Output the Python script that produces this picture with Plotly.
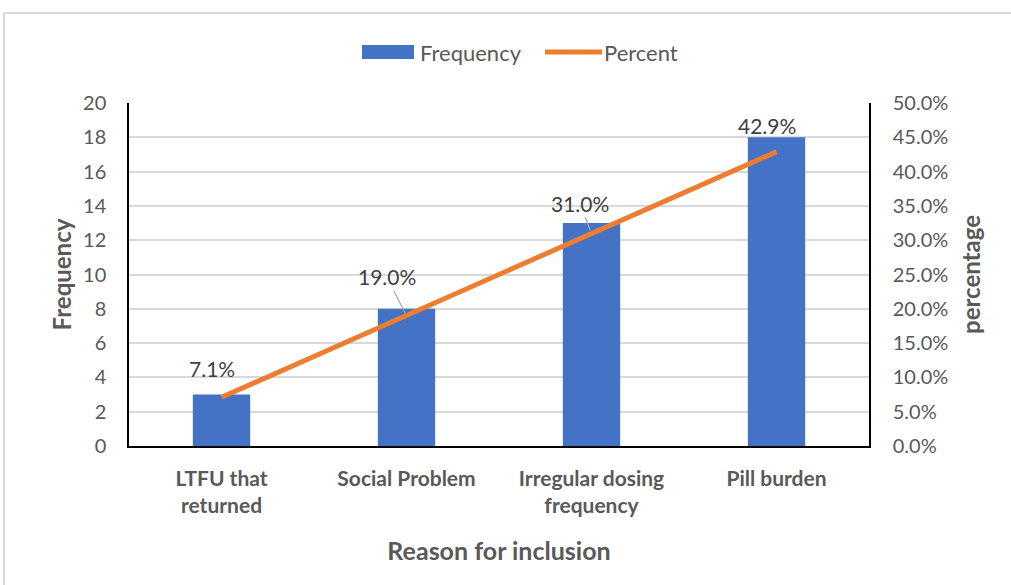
import plotly.graph_objects as go

# Reasons for inclusion, counts and share of total
categories = ["LTFU that<br>returned", "Social Problem", "Irregular dosing<br>frequency", "Pill burden"]
frequency = [3, 8, 13, 18]
percent = [0.071, 0.190, 0.310, 0.429]
percent_labels = ["7.1%", "19.0%", "31.0%", "42.9%"]

BLUE = "#4472C4"
ORANGE = "#ED7D31"
TEXT = "#595959"
LABEL = "#404040"
GRID = "#D9D9D9"
FONT = "Lato"

fig = go.Figure()
fig.add_trace(go.Bar(x=categories, y=frequency, name="Frequency",
                     marker=dict(color=BLUE, line=dict(width=0)), width=0.31))
fig.add_trace(go.Scatter(x=categories, y=percent, name="Percent", yaxis="y2",
                         mode="lines", line=dict(color=ORANGE, width=5)))

# Data labels on the percent line (leader lines for the middle two)
offsets = [(-10, -29, False), (-20, -39, True), (-12, -30, True), (-10, -26, False)]
for cat, val, txt, (ax, ay, lead) in zip(categories, percent, percent_labels, offsets):
    fig.add_annotation(x=cat, y=val, xref="x", yref="y2", text=txt,
                       showarrow=True, ax=ax, ay=ay, axref="pixel", ayref="pixel",
                       arrowhead=0, arrowwidth=1.2,
                       arrowcolor="#A6A6A6" if lead else "rgba(0,0,0,0)",
                       standoff=3, font=dict(family=FONT, size=21, color=LABEL))

# Legend drawn at the top centre
L, W, T, H = 129, 740, 103, 343
def px(x):
    return (x - L) / W
def py(y):
    return (T + H - y) / H

shapes = [
    dict(type="rect", xref="paper", yref="paper", x0=px(362), x1=px(414), y0=py(59), y1=py(45),
         fillcolor=BLUE, line=dict(width=0)),
    dict(type="line", xref="paper", yref="paper", x0=px(545), x1=px(602), y0=py(52), y1=py(52),
         line=dict(color=ORANGE, width=5)),
    # chart frame
    dict(type="line", xref="paper", yref="paper", x0=px(4), x1=px(1015), y0=py(13), y1=py(13),
         line=dict(color=GRID, width=2)),
    dict(type="line", xref="paper", yref="paper", x0=px(4), x1=px(4), y0=py(13), y1=py(600),
         line=dict(color=GRID, width=2)),
]
fig.add_annotation(xref="paper", yref="paper", x=px(418), y=py(52), text="Frequency",
                   showarrow=False, xanchor="left", yanchor="middle",
                   font=dict(family=FONT, size=22, color=TEXT))
fig.add_annotation(xref="paper", yref="paper", x=px(602), y=py(52), text="Percent",
                   showarrow=False, xanchor="left", yanchor="middle",
                   font=dict(family=FONT, size=22, color=TEXT))

fig.update_layout(
    width=1011, height=585,
    margin=dict(l=L, r=1011 - L - W, t=T, b=585 - T - H),
    paper_bgcolor="white", plot_bgcolor="white",
    showlegend=False, shapes=shapes,
    font=dict(family=FONT, color=TEXT),
    xaxis=dict(showline=True, linecolor="black", linewidth=1.5, showgrid=False,
               ticks="", ticklabelstandoff=13,
               tickfont=dict(family=FONT, size=21, color=TEXT, weight="bold"),
               title=dict(text="<b>Reason for inclusion</b>", standoff=26,
                          font=dict(family=FONT, size=25, color=TEXT))),
    yaxis=dict(range=[0, 20], dtick=2, showline=True, linecolor="black", linewidth=1.5,
               showgrid=True, gridcolor=GRID, gridwidth=1.5, zeroline=False,
               ticks="", ticklabelstandoff=17,
               tickfont=dict(family=FONT, size=20, color=TEXT),
               title=dict(text="<b>Frequency</b>", standoff=5,
                          font=dict(family=FONT, size=24, color=TEXT))),
    yaxis2=dict(range=[0, 0.5], dtick=0.05, tickformat=".1%", overlaying="y", side="right",
                showline=True, linecolor="black", linewidth=1.5, showgrid=False, zeroline=False,
                ticks="", ticklabelstandoff=18,
                tickfont=dict(family=FONT, size=20, color=TEXT),
                title=dict(text="<b>percentage</b>", standoff=16,
                           font=dict(family=FONT, size=24, color=TEXT))),
)

fig.write_html("out.html")
